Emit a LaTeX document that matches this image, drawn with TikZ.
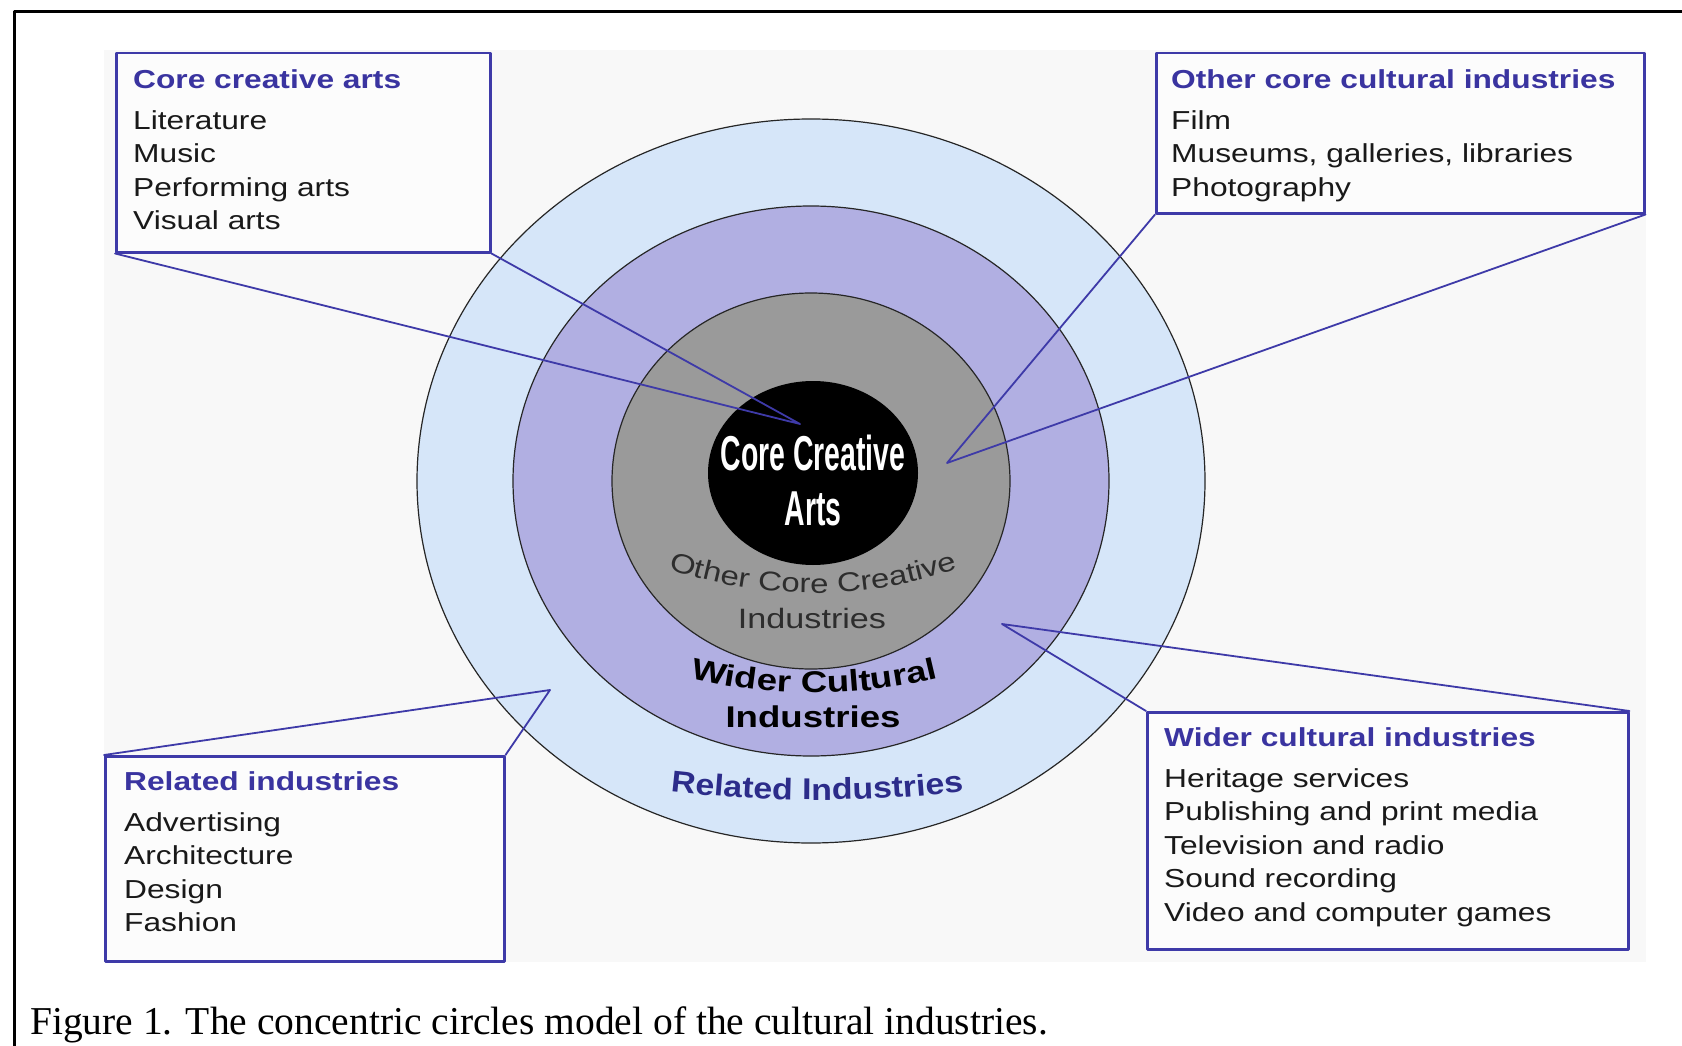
\documentclass[tikz,border=0pt]{standalone}
\usepackage{fontspec}
\usetikzlibrary{decorations.text}

\newfontfamily\labelsans[FakeStretch=1.22]{Liberation Sans}
\newfontfamily\ringsans[FakeStretch=1.13]{Liberation Sans}
\newfontfamily\narrowsans[FakeStretch=0.58]{Liberation Sans}
\newfontfamily\capserif{Liberation Serif}

\definecolor{ringblue}{RGB}{214,230,249}
\definecolor{ringpurple}{RGB}{177,175,226}
\definecolor{ringgray}{RGB}{154,154,154}
\definecolor{panelgray}{RGB}{248,248,248}
\definecolor{calloutblue}{RGB}{62,58,168}
\definecolor{titleblue}{RGB}{58,52,160}
\definecolor{relblue}{RGB}{44,44,138}
\definecolor{textblack}{RGB}{25,25,25}
\definecolor{ringtext}{RGB}{45,45,45}

\tikzset{
  infobox/.style={draw=calloutblue, line width=2.5pt, fill=white!60!panelgray, inner sep=0pt, anchor=north west},
  boxtext/.style={anchor=north west, align=left, inner sep=0pt, text=textblack, font=\labelsans\fontsize{26}{33.5}\selectfont},
  callout/.style={draw=calloutblue, line width=1.8pt},
}

\begin{document}
\begin{tikzpicture}[x=1pt, y=-1pt, line join=round, line cap=round]
    \useasboundingbox (0,0) rectangle (1682,1046);

    % Page frame and panel
    \draw[black, line width=3pt] (14,1060) -- (14,12) -- (1700,12);
    \fill[panelgray] (104,50) rectangle (1646,962);

    % Rings
    \coordinate (ctr) at (811,481);
    \foreach \rx/\ry/\col in {394/362/ringblue, 298/275/ringpurple, 199/188/ringgray} {
        \filldraw[fill=\col, draw=black!85, line width=1.2pt] (ctr) ellipse [x radius=\rx pt, y radius=\ry pt];
    }
    \fill[black] (813,473) ellipse [x radius=105pt, y radius=92pt];

    % Ring labels
    \node[text=white, align=center, font=\narrowsans\bfseries\fontsize{49}{55}\selectfont] (corearts) at (813,480) {Core Creative\\Arts};

    \coordinate (otherarc) at (813,148);
    \path[decorate, decoration={text along path, text align=center,
        text={|\labelsans\fontsize{27}{30}\selectfont\color{ringtext}|Other Core Creative}}]
        ([shift={(240:445pt)}]otherarc) arc[start angle=240, end angle=300, radius=445pt];
    \node[anchor=base, text=ringtext, font=\labelsans\fontsize{28}{30}\selectfont] (otherind) at (812,628) {Industries};

    \coordinate (widerarc) at (814,173);
    \path[decorate, decoration={text along path, text align=center,
        text={|\labelsans\bfseries\fontsize{30}{32}\selectfont\color{black}|Wider Cultural}}]
        ([shift={(240:520pt)}]widerarc) arc[start angle=240, end angle=300, radius=520pt];
    \node[anchor=base, text=black, font=\labelsans\bfseries\fontsize{30}{32}\selectfont] (widerind) at (813,727) {Industries};

    \coordinate (relarc) at (817,-500);
    \path[decorate, decoration={text along path, text align=center,
        text={|\ringsans\bfseries\fontsize{30}{33}\selectfont\color{relblue}|Related Industries}}]
        ([shift={(255:1300pt)}]relarc) arc[start angle=255, end angle=285, radius=1300pt];

    % Callout boxes
    \node[infobox, minimum width=374pt, minimum height=199pt] (corebox) at (115,52) {};
    \node[boxtext] (coretext) at ([shift={(18,17)}]corebox.north west)
        {\textcolor{titleblue}{\bfseries Core creative arts}\\[7.5pt]
         Literature\\ Music\\ Performing arts\\ Visual arts};

    \node[infobox, minimum width=488pt, minimum height=160pt] (otherbox) at (1155,52) {};
    \node[boxtext] (othertext) at ([shift={(16,17)}]otherbox.north west)
        {\textcolor{titleblue}{\bfseries Other core cultural industries}\\[7.5pt]
         Film\\ Museums, galleries, libraries\\ Photography};

    \node[infobox, minimum width=399pt, minimum height=205pt] (relbox) at (104,755) {};
    \node[boxtext] (reltext) at ([shift={(20,16)}]relbox.north west)
        {\textcolor{titleblue}{\bfseries Related industries}\\[7.5pt]
         Advertising\\ Architecture\\ Design\\ Fashion};

    \node[infobox, minimum width=481pt, minimum height=237pt] (widerbox) at (1146,711) {};
    \node[boxtext] (widertext) at ([shift={(18,16)}]widerbox.north west)
        {\textcolor{titleblue}{\bfseries Wider cultural industries}\\[7.5pt]
         Heritage services\\ Publishing and print media\\ Television and radio\\
         Sound recording\\ Video and computer games};

    % Callout pointers
    \coordinate (coretip) at (800,424);
    \coordinate (othertip) at (947,463);
    \coordinate (reltip) at (550,690);
    \coordinate (widertip) at (1002,624);
    \draw[callout] (corebox.south west) -- (coretip) -- (corebox.south east);
    \draw[callout] (otherbox.south west) -- (othertip) -- (otherbox.south east);
    \draw[callout] (relbox.north west) -- (reltip) -- (relbox.north east);
    \draw[callout] (widerbox.north west) -- (widertip) -- (widerbox.north east);

    % Caption
    \node[anchor=base west, inner sep=0pt, font=\capserif\fontsize{39.5}{44}\selectfont] (caption) at (30,1034)
        {Figure 1. The concentric circles model of the cultural industries.};
\end{tikzpicture}
\end{document}
